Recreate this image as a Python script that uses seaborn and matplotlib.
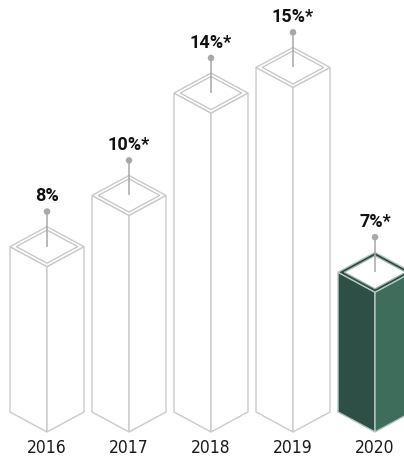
import matplotlib
matplotlib.use("Agg")
import matplotlib.pyplot as plt
from matplotlib.patches import Polygon
from matplotlib import font_manager
import seaborn as sns
import pandas as pd

# Growth figures per year
years = ["2016", "2017", "2018", "2019", "2020"]
values = [8, 10, 14, 15, 7]
labels = ["8%", "10%*", "14%*", "15%*", "7%*"]
highlight = ["2020"]

df = pd.DataFrame({"year": years, "value": values})

sns.set_theme(style="white")
plt.rcParams["font.family"] = ["DejaVu Sans"]

fig = plt.figure(figsize=(4.04, 4.59), dpi=100)
ax = fig.add_axes([0, 23 / 459, 1, 436 / 459])

# invisible bars set up the categorical axis
sns.barplot(data=df, x="year", y="value", ax=ax, color="white", alpha=0, linewidth=0)

ax.set_xlim(-0.5732, 4.3537)
ax.set_ylim(0.6025, 17.634)
sns.despine(ax=ax, left=True, bottom=True)
ax.set_yticks([])
ax.set_xlabel("")
ax.set_ylabel("")
ax.tick_params(axis="x", length=0, pad=2.5, labelcolor="#1a1a1a")

# narrow face for the year labels
year_font = font_manager.FontProperties(family="DejaVu Sans", stretch="condensed", size=12.5)
for t in ax.get_xticklabels():
    t.set_fontproperties(year_font)

# prism geometry (data units)
half_w = 0.451      # half width of a prism
depth = 0.78        # half height of the top diamond
inner = 0.83        # scale of inner rim of the top face
floor = 1.54        # value at which the prisms stand
dot_gap = 0.59      # dot above the top vertex
label_gap = 0.59    # label above the dot

line_grey = "#cacaca"
stem_grey = "#a8a8a8"
green_left = "#2e4f45"
green_right = "#3f6d5b"
green_top = "#2a4a3f"

centers = [p.get_x() + p.get_width() / 2 for p in ax.patches]

for cx, yr, v, lab in zip(centers, years, values, labels):
    hi = yr in highlight
    left_face = [(cx - half_w, floor), (cx - half_w, v), (cx, v - depth), (cx, floor - depth)]
    right_face = [(cx, floor - depth), (cx, v - depth), (cx + half_w, v), (cx + half_w, floor)]
    top = [(cx - half_w, v), (cx, v + depth), (cx + half_w, v), (cx, v - depth)]
    top_in = [(cx - half_w * inner, v), (cx, v + depth * inner),
              (cx + half_w * inner, v), (cx, v - depth * inner)]
    if hi:
        fl, fr, ft, ec = green_left, green_right, green_top, "#b9c7c1"
    else:
        fl, fr, ft, ec = "white", "white", "white", line_grey
    for pts, fc in [(left_face, fl), (right_face, fr), (top, ft)]:
        ax.add_patch(Polygon(pts, closed=True, facecolor=fc, edgecolor=ec,
                             linewidth=1.0, joinstyle="miter", zorder=2, clip_on=False))
    ax.add_patch(Polygon(top_in, closed=True, facecolor="white",
                         edgecolor="#c4c4c4" if not hi else "#9fb0a9",
                         linewidth=0.9, joinstyle="miter", zorder=3))
    # stem from the dot down to the centre of the top face
    dot_y = v + depth + dot_gap
    ax.plot([cx, cx], [v, dot_y], color=stem_grey, linewidth=1.1, zorder=4,
            solid_capstyle="butt")
    ax.text(cx, dot_y + label_gap, lab, ha="center", va="center",
            fontsize=13, fontweight="bold", family=["Roboto", "DejaVu Sans"],
            color="#111111", zorder=5)

dots = pd.DataFrame({"x": centers, "y": [v + depth + dot_gap for v in values]})
sns.scatterplot(data=dots, x="x", y="y", ax=ax, s=22, color=stem_grey,
                edgecolor="none", zorder=5, legend=False)
ax.set_xlabel("")
ax.set_ylabel("")

fig.savefig("out.png", dpi=100)
